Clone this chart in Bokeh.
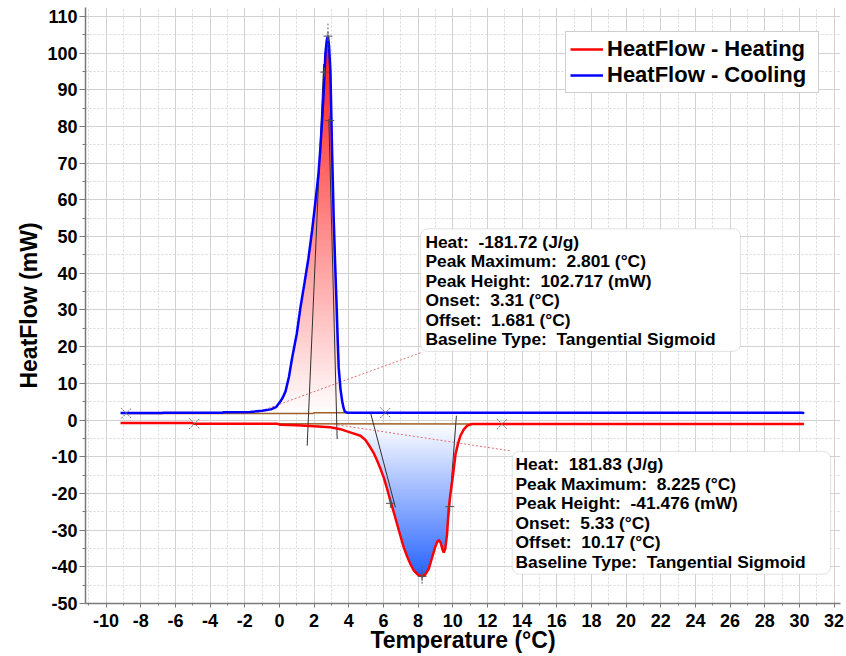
import numpy as np
from bokeh.plotting import figure
from bokeh.models import (Range1d, SingleIntervalTicker, BoxAnnotation,
                          Legend, LegendItem)
from bokeh.core.properties import value
from bokeh.embed import file_html
from bokeh.resources import INLINE

FONT = "Liberation Sans"

# ---------------- data ----------------
cool_x = [-9.17, -6.8, -6.7, -3.3, -3.2, -1.7, -1.0, -0.5, -0.2, 0.06, 0.2, 0.35,
          0.55, 0.73, 1.0, 1.21, 1.45, 1.67, 1.88, 2.08, 2.25, 2.36, 2.46, 2.56,
          2.65, 2.73, 2.8, 2.86, 2.94, 3.04, 3.13, 3.21, 3.29, 3.36, 3.42, 3.52,
          3.62, 3.7, 3.77, 3.9, 30.2, 30.26]
cool_y = [1.9, 1.9, 2.0, 2.0, 2.1, 2.2, 2.5, 2.9, 3.5, 5.1, 6.2, 7.8,
          11.8, 16.9, 23.5, 30.6, 37.5, 44.0, 51.5, 59.7, 67.0, 74.0, 81.5, 90.0,
          99.8, 103.5, 104.6, 102.0, 95.3, 72.6, 55.0, 43.0, 32.4, 22.0, 14.2, 8.5,
          5.1, 3.3, 2.3, 2.0, 2.0, 1.7]

heat_x = [-9.17, -5.05, -4.95, -0.15, 0.05, 1.0, 2.0, 2.94, 3.52, 3.9, 4.3, 4.67,
          4.95, 5.25, 5.45, 5.64, 5.83, 6.02, 6.2, 6.4, 6.6, 6.79, 6.98, 7.17, 7.37,
          7.56, 7.75, 7.95, 8.1, 8.23, 8.4, 8.62, 8.8, 8.98, 9.1, 9.19, 9.3, 9.4,
          9.48, 9.57, 9.67, 9.77, 9.87, 9.97, 10.07, 10.16, 10.3, 10.44, 10.63,
          10.83, 11.11, 30.26]
heat_y = [-0.85, -0.85, -1.0, -1.0, -1.3, -1.45, -1.7, -2.0, -2.5, -3.1, -3.7, -4.3,
          -5.4, -7.5, -9.1, -11.1, -13.3, -15.7, -18.6, -22.0, -25.2, -28.4, -31.6,
          -34.7, -37.2, -39.3, -41.0, -42.0, -42.4, -42.6, -42.2, -40.5, -37.6,
          -34.7, -33.2, -32.7, -33.4, -35.2, -36.1, -35.0, -31.1, -23.8, -20.0,
          -16.6, -12.8, -9.3, -6.5, -4.3, -2.6, -1.55, -1.1, -1.1]

# integration limits / baselines
cool_base_x = [-8.83, 1.95, 2.0, 6.12]
cool_base_y = [1.8, 1.8, 2.0, 2.0]
heat_base_x = [-4.9, 12.85]
heat_base_y = [-1.0, -1.1]
limit_x = [-8.83, 6.12, -4.9, 12.85]
limit_y = [1.85, 2.0, -1.0, -1.1]

# tangents and inflection points
tan_x0 = [1.6, 3.33, 5.25, 10.21]
tan_y0 = [-7.0, -5.2, 2.07, 1.17]
tan_x1 = [2.55, 2.85, 6.69, 9.77]
tan_y1 = [97.0, 82.0, -23.8, -26.1]
infl_x = [2.61, 2.9, 6.4, 9.83]
infl_y = [94.8, 81.6, -22.7, -23.6]
peak_x = [2.8, 8.23]
peak_y = [104.6, -42.6]

x_ticks = list(range(-10, 33, 2))
x_tick_labels = [str(v) for v in x_ticks]
y_ticks = list(range(-50, 111, 10))
y_tick_labels = [str(v) for v in y_ticks]

box1_lines = ["Heat: \u00a0-181.72 (J/g)", "Peak Maximum: \u00a02.801 (°C)",
              "Peak Height: \u00a0102.717 (mW)", "Onset: \u00a03.31 (°C)",
              "Offset: \u00a01.681 (°C)", "Baseline Type: \u00a0Tangential Sigmoid"]
box2_lines = ["Heat: \u00a0181.83 (J/g)", "Peak Maximum: \u00a08.225 (°C)",
              "Peak Height: \u00a0-41.476 (mW)", "Onset: \u00a05.33 (°C)",
              "Offset: \u00a010.17 (°C)", "Baseline Type: \u00a0Tangential Sigmoid"]

# ---------------- figure ----------------
p = figure(width=846, height=656, output_backend="svg", toolbar_location=None,
           x_range=Range1d(-11.19, 32.37), y_range=Range1d(-50, 112.4),
           min_border_left=85, min_border_right=6, min_border_top=7,
           min_border_bottom=53)
p.outline_line_color = None

p.xaxis.ticker = SingleIntervalTicker(interval=2, num_minor_ticks=2)
p.yaxis.ticker = SingleIntervalTicker(interval=10, num_minor_ticks=2)
p.xaxis.major_label_overrides = dict(zip(x_ticks, x_tick_labels))
p.yaxis.major_label_overrides = dict(zip(y_ticks, y_tick_labels))
p.xaxis.axis_label = "Temperature (°C)"
p.yaxis.axis_label = "HeatFlow (mW)"
for ax in (p.xaxis[0], p.yaxis[0]):
    ax.axis_line_color = "#7a7a7a"
    ax.axis_line_width = 1.5
    ax.major_tick_line_color = "#7a7a7a"
    ax.major_tick_in = 0
    ax.minor_tick_line_color = "#7a7a7a"
    ax.minor_tick_in = 0
    ax.major_label_text_font = FONT
    ax.major_label_text_font_style = "bold"
    ax.major_label_text_font_size = "18px"
    ax.major_label_text_color = "black"
    ax.axis_label_text_font = FONT
    ax.axis_label_text_font_style = "bold"
    ax.axis_label_text_font_size = "23px"
    ax.axis_label_text_color = "black"
p.xaxis.major_tick_out = 4
p.xaxis.minor_tick_out = 2
p.xaxis.major_label_standoff = 6
p.xaxis.axis_label_standoff = -3
p.yaxis.major_tick_out = 6
p.yaxis.minor_tick_out = 3
p.yaxis.major_label_standoff = 2
p.yaxis.axis_label_standoff = 2

for g in (p.xgrid[0], p.ygrid[0]):
    g.grid_line_color = "#d2d2d2"
    g.grid_line_width = 1
    g.minor_grid_line_color = "#d8d8d8"
    g.minor_grid_line_dash = "2 2"

# ---------------- gradient fills ----------------
def hexcol(c):
    return "#%02x%02x%02x" % tuple(int(round(v)) for v in c)

cx = np.array(cool_x); cy = np.array(cool_y)
xs = np.linspace(-1.0, 3.95, 800)
ys = np.interp(xs, cx, cy)
base_c = 2.0
top_c = cy.max()
n = 70
levels = np.linspace(base_c, top_c, n + 1)[1:]
for hi in levels[::-1]:
    t = (hi - base_c) / (top_c - base_c)
    col = np.array([255, 255, 255]) * (1 - t) + np.array([255, 20, 20]) * t
    yt = np.maximum(np.minimum(ys, hi), base_c)
    p.varea(x=xs, y1=base_c, y2=yt, fill_color=hexcol(col), fill_alpha=1.0)

hx = np.array(heat_x); hy = np.array(heat_y)
xs2 = np.linspace(2.0, 11.2, 800)
ys2 = np.interp(xs2, hx, hy)
base_h = -1.1
bot_h = hy.min()
levels2 = np.linspace(base_h, bot_h, n + 1)[1:]
for lo in levels2[::-1]:
    t = (base_h - lo) / (base_h - bot_h)
    col = np.array([255, 255, 255]) * (1 - t) + np.array([40, 100, 255]) * t
    yb = np.minimum(np.maximum(ys2, lo), base_h)
    p.varea(x=xs2, y1=base_h, y2=yb, fill_color=hexcol(col), fill_alpha=1.0)

# ---------------- baselines, tangents, markers ----------------
p.line(cool_base_x, cool_base_y, line_color="#a0602a", line_width=1.5)
p.line(heat_base_x, heat_base_y, line_color="#a0602a", line_width=1.5)
p.segment(x0=tan_x0, y0=tan_y0, x1=tan_x1, y1=tan_y1, line_color="#303030",
          line_width=1)

# leader lines from the result boxes
p.segment(x0=[-1.29, 2.9], y0=[2.07, -1.0], x1=[8.14, 13.33], y1=[18.3, -8.4],
          line_color="#e07070", line_width=1, line_dash="2 2")

r_cool = p.line(cool_x, cool_y, line_color="#0000ff", line_width=2.5)
r_heat = p.line(heat_x, heat_y, line_color="#ff0000", line_width=2.5)

p.scatter(limit_x, limit_y, marker="x", size=15, line_color="#707070",
          line_width=1, line_dash="2 1")
p.scatter(infl_x, infl_y, marker="cross", size=9, line_color="#505050",
          line_width=1)
p.scatter(peak_x, peak_y, marker="cross", size=9, line_color="#505050",
          line_width=1)
p.segment(x0=peak_x, y0=[101.0, -39.7], x1=peak_x, y1=[108.0, -44.8],
          line_color="#606060", line_width=1, line_dash="2 2")

# ---------------- result boxes ----------------
p.add_layout(BoxAnnotation(left=8.14, right=26.6, top=52.1, bottom=18.7,
                           fill_color="white", fill_alpha=1.0,
                           line_color="#a0a0a0", line_width=1, border_radius=7))
p.add_layout(BoxAnnotation(left=13.43, right=31.8, top=-8.56, bottom=-42.0,
                           fill_color="white", fill_alpha=1.0,
                           line_color="#a0a0a0", line_width=1, border_radius=7))

step = 19.5 / 3.667
t1 = p.text(x=[8.42] * 6, y=[48.6 - i * step for i in range(6)], text=box1_lines,
            text_font=value(FONT), text_font_style="bold", text_font_size="17.4px",
            text_baseline="middle", text_align="left", text_color="black")
t2 = p.text(x=[13.62] * 6, y=[-12.0 - i * step for i in range(6)], text=box2_lines,
            text_font=value(FONT), text_font_style="bold", text_font_size="17.4px",
            text_baseline="middle", text_align="left", text_color="black")
t1.level = "overlay"
t2.level = "overlay"

# ---------------- legend ----------------
legend = Legend(items=[LegendItem(label="HeatFlow - Heating", renderers=[r_heat]),
                       LegendItem(label="HeatFlow - Cooling", renderers=[r_cool])],
                location=(480, 510))
legend.label_text_font = FONT
legend.label_text_font_style = "bold"
legend.label_text_font_size = "22px"
legend.label_text_color = "black"
legend.border_line_color = "#a0a0a0"
legend.border_line_width = 1
legend.background_fill_alpha = 1.0
legend.glyph_width = 33
legend.glyph_height = 20
legend.label_height = 20
legend.label_width = 207
legend.label_standoff = 4
legend.spacing = 0
legend.padding = 4
p.add_layout(legend)

open("out.html", "w").write(file_html(p, INLINE))
